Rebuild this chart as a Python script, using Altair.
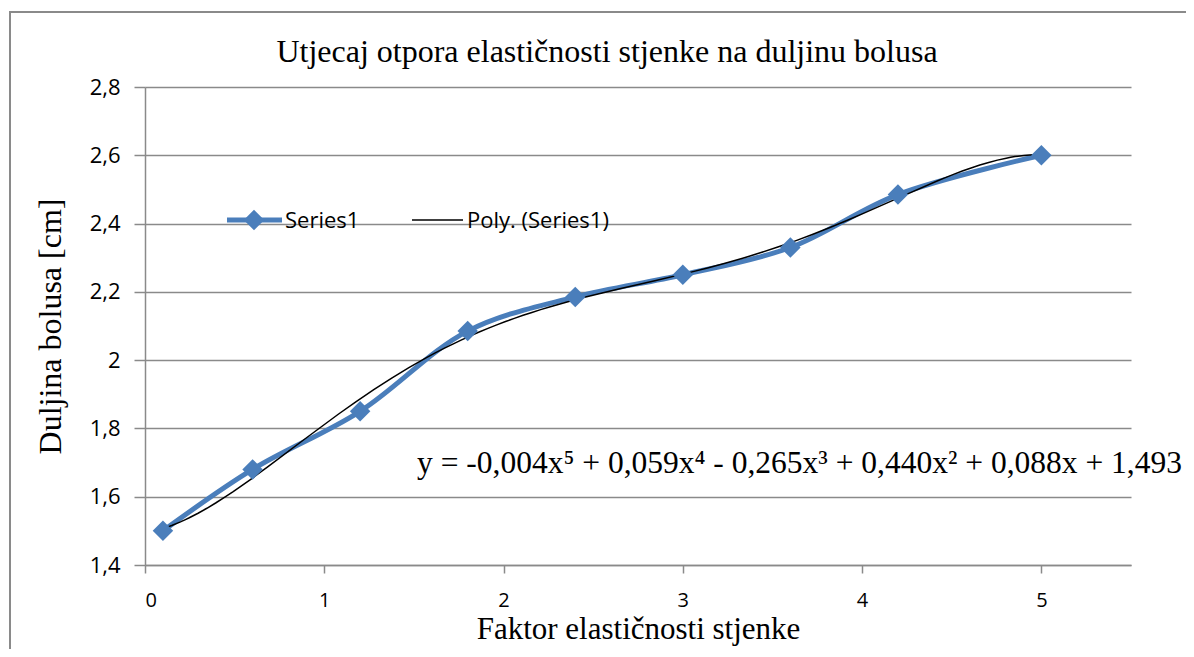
import altair as alt
import pandas as pd

x_vals = [0.1, 0.6, 1.2, 1.8, 2.4, 3.0, 3.6, 4.2, 5.0]
y_vals = [1.50, 1.68, 1.85, 2.085, 2.185, 2.25, 2.33, 2.485, 2.60]
title_text = "Utjecaj otpora elastičnosti stjenke na duljinu bolusa"
x_title = "Faktor elastičnosti stjenke"
y_title = "Duljina bolusa [cm]"
equation = "y = -0,004x⁵ + 0,059x⁴ - 0,265x³ + 0,440x² + 0,088x + 1,493"
legend_names = ["Series1", "Poly. (Series1)"]
x_ticks = [0, 1, 2, 3, 4, 5]
y_ticks = [1.4, 1.6, 1.8, 2.0, 2.2, 2.4, 2.6, 2.8]

df = pd.DataFrame({"x": x_vals, "y": y_vals})

BLUE = "#4A7EBB"
GRID = "#8A8A8A"
SERIF = "Liberation Serif"
SANS = "Open Sans"
LBL = 22

xs = alt.Scale(domain=[0, 5.5], nice=False)
ys = alt.Scale(domain=[1.4, 2.8], nice=False, zero=False)

num_expr = "replace(format(datum.value, '~g'), '.', ',')"

x_axis = alt.Axis(values=x_ticks, grid=False, title=x_title, titleFont=SERIF,
                  titleFontSize=31, titleFontWeight="normal", titleColor="black",
                  titlePadding=4, labelFont=SANS, labelFontSize=20, labelColor="black",
                  labelPadding=17, tickSize=8, tickColor=GRID, domainColor=GRID,
                  domainWidth=1.5, tickWidth=1.5, labelExpr=num_expr)
y_axis = alt.Axis(values=y_ticks, grid=True, gridColor=GRID, gridWidth=1.5,
                  title=y_title, titleFont=SERIF, titleFontSize=32,
                  titleFontWeight="normal", titleColor="black", titlePadding=22,
                  labelFont=SANS, labelFontSize=LBL, labelColor="black", labelPadding=14,
                  tickSize=11, tickColor=GRID, domainColor=GRID, domainWidth=1.5,
                  tickWidth=1.5, labelExpr=num_expr)

base = alt.Chart(df)
one = base.transform_filter("datum.x == 0.1")

frame = one.mark_rect(fill=None, stroke="#8A8A8A", strokeWidth=2).encode(
    x=alt.value(-135), x2=alt.value(1300), y=alt.value(-75), y2=alt.value(700)
)

blue_line = base.mark_line(color=BLUE, strokeWidth=5, interpolate="catmull-rom").encode(
    x=alt.X("x:Q", scale=xs, axis=x_axis),
    y=alt.Y("y:Q", scale=ys, axis=y_axis),
)
blue_pts = base.mark_point(shape="diamond", filled=True, color=BLUE, size=420, opacity=1).encode(
    x=alt.X("x:Q", scale=xs),
    y=alt.Y("y:Q", scale=ys),
)
poly = base.transform_regression("x", "y", method="poly", order=5).mark_line(
    color="black", strokeWidth=1.5
).encode(
    x=alt.X("x:Q", scale=xs),
    y=alt.Y("y:Q", scale=ys),
)

title = one.mark_text(text=title_text, font=SERIF, fontSize=32, color="black",
                      align="center", baseline="alphabetic").encode(
    x=alt.value(462), y=alt.value(-25))
eq = one.mark_text(text=equation, font=SERIF, fontSize=31.5, color="black",
                   align="left", baseline="alphabetic").encode(
    x=alt.value(272), y=alt.value(386))

leg_blue = one.mark_rule(color=BLUE, strokeWidth=5).encode(
    x=alt.value(82), x2=alt.value(137), y=alt.value(133))
leg_diam = one.mark_point(shape="diamond", filled=True, color=BLUE, size=420, opacity=1).encode(
    x=alt.value(109), y=alt.value(133))
leg_t1 = one.mark_text(text=legend_names[0], font=SANS, fontSize=LBL, color="black",
                       align="left", baseline="middle").encode(
    x=alt.value(140), y=alt.value(134))
leg_black = one.mark_rule(color="black", strokeWidth=1.5).encode(
    x=alt.value(267), x2=alt.value(318), y=alt.value(133))
leg_t2 = one.mark_text(text=legend_names[1], font=SANS, fontSize=LBL, color="black",
                       align="left", baseline="middle").encode(
    x=alt.value(322), y=alt.value(134))

chart = alt.layer(
    frame, blue_line, poly, blue_pts, title, eq,
    leg_blue, leg_diam, leg_t1, leg_black, leg_t2
).properties(
    width=986, height=478,
    autosize=alt.AutoSizeParams(type="none"),
    padding={"left": 137, "top": 79, "right": 55, "bottom": 84},
    background="white",
).configure_view(stroke=None)

chart.save("out.html", embed_options={"renderer": "svg", "actions": False})
